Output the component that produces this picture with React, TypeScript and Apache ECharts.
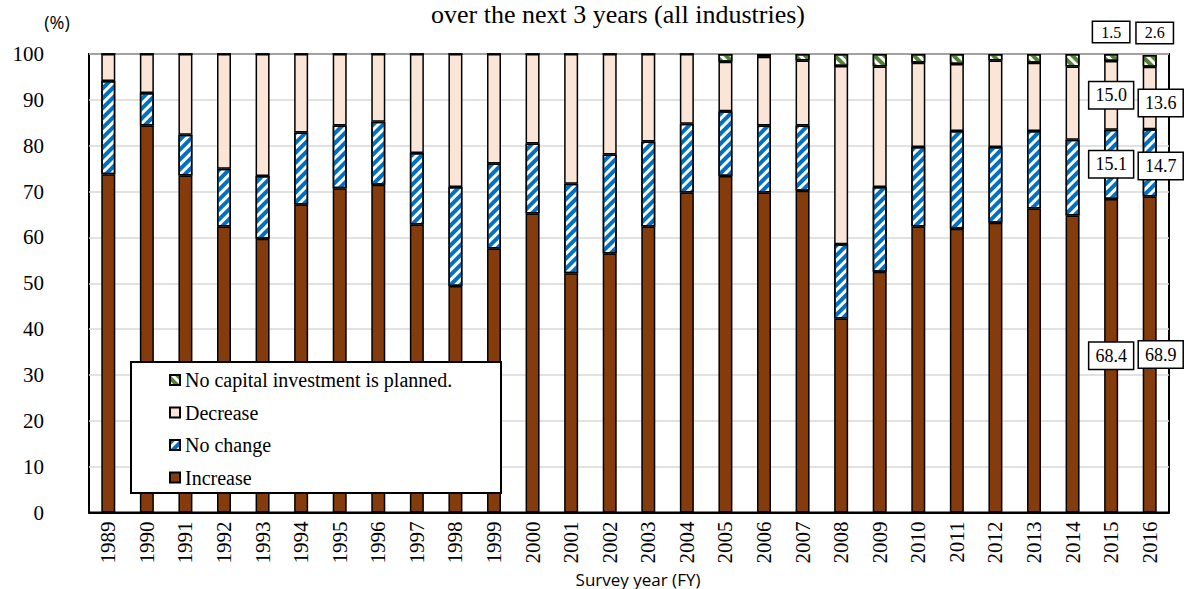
import React, { useEffect, useRef } from "react";
import * as echarts from "echarts";

// Survey years (FY)
const years = [
  "1989", "1990", "1991", "1992", "1993", "1994", "1995", "1996", "1997", "1998",
  "1999", "2000", "2001", "2002", "2003", "2004", "2005", "2006", "2007", "2008",
  "2009", "2010", "2011", "2012", "2013", "2014", "2015", "2016",
];

// Share of companies (%) by capital investment outlook
const increase = [
  73.8, 84.4, 73.5, 62.4, 59.7, 67.2, 70.7, 71.5, 62.8, 49.4,
  57.6, 65.2, 52.2, 56.5, 62.4, 69.8, 73.4, 69.8, 70.2, 42.3,
  52.5, 62.4, 61.9, 63.2, 66.3, 64.8, 68.4, 68.9,
];
const noChange = [
  20.3, 7.1, 8.9, 12.6, 13.7, 15.7, 13.7, 13.7, 15.6, 21.6,
  18.5, 15.3, 19.5, 21.6, 18.5, 15.0, 14.1, 14.6, 14.2, 16.2,
  18.5, 17.3, 21.3, 16.5, 16.9, 16.5, 15.1, 14.7,
];
const decrease = [
  5.9, 8.5, 17.6, 25.0, 26.6, 17.1, 15.6, 14.8, 21.6, 29.0,
  23.9, 19.5, 28.3, 21.9, 19.1, 15.2, 10.8, 15.0, 14.2, 38.9,
  26.3, 18.4, 14.6, 18.9, 14.9, 16.0, 15.0, 13.6,
];
const noInvestment = [
  0, 0, 0, 0, 0, 0, 0, 0, 0, 0,
  0, 0, 0, 0, 0, 0, 1.7, 0.6, 1.4, 2.6,
  2.7, 1.9, 2.2, 1.4, 1.9, 2.7, 1.5, 2.6,
];

const yTicks = [0, 10, 20, 30, 40, 50, 60, 70, 80, 90, 100];
const labelledYears = ["2015", "2016"];

const SERIF = "'Liberation Serif', 'Times New Roman', serif";
const SANS = "'Open Sans', 'Liberation Sans', sans-serif";

const boxLabel = (fontSize: number, padding: number[]) => ({
  show: true,
  backgroundColor: "#fff",
  borderColor: "#000",
  borderWidth: 1.5,
  padding,
  fontFamily: SERIF,
  fontSize,
  color: "#000",
  formatter: (p: any) => Number(p.value).toFixed(1),
});

// Attach value boxes to the latest two survey years
function withLabels(values: number[], opts: (year: string) => any) {
  return values.map((v, i) => {
    const year = years[i];
    if (!labelledYears.includes(year)) return v;
    return { value: v, label: opts(year) };
  });
}

export default function App() {
  const ref = useRef<HTMLDivElement>(null);

  useEffect(() => {
    document.body.style.margin = "0";
    const chart = echarts.init(ref.current!, null, { renderer: "svg" });

    const barBase = {
      type: "bar" as const,
      stack: "total",
      barWidth: 14,
      emphasis: { disabled: true },
    };

    const option: any = {
      animation: false,
      backgroundColor: "#fff",
      grid: {
        left: 89,
        top: 54,
        width: 1080,
        height: 458.5,
        show: true,
        borderColor: "#000",
        borderWidth: 2,
        backgroundColor: "transparent",
      },
      xAxis: {
        type: "category",
        data: years,
        axisLine: { show: true, lineStyle: { color: "#000", width: 2 } },
        axisTick: { show: false },
        axisLabel: {
          rotate: 90,
          margin: 9,
          fontFamily: SERIF,
          fontSize: 21,
          color: "#000",
        },
      },
      yAxis: {
        type: "value",
        min: yTicks[0],
        max: yTicks[yTicks.length - 1],
        interval: 10,
        axisLine: { show: false },
        axisTick: { show: false },
        axisLabel: {
          margin: 45,
          fontFamily: SERIF,
          fontSize: 21,
          color: "#000",
        },
        splitLine: { lineStyle: { color: "#d9d9d9", width: 1.5 } },
      },
      legend: {
        orient: "vertical",
        left: 164,
        top: 365,
        z: 10,
        itemWidth: 10,
        itemHeight: 10,
        itemGap: 12.5,
        icon: "rect",
        data: ["No capital investment is planned.", "Decrease", "No change", "Increase"],
        textStyle: { fontFamily: SERIF, fontSize: 20, color: "#000", lineHeight: 20 },
        selectedMode: false,
      },
      graphic: [
        {
          type: "rect",
          z: 9,
          shape: { x: 131, y: 362, width: 370, height: 131 },
          style: { fill: "#fff", stroke: "#000", lineWidth: 2 },
        },
        {
          type: "text",
          x: 618,
          y: 14,
          style: {
            text: "over the next 3 years (all industries)",
            fontFamily: SERIF,
            fontSize: 26,
            fill: "#000",
            align: "center",
            verticalAlign: "middle",
          },
        },
        {
          type: "text",
          x: 57,
          y: 22,
          style: {
            text: "(%)",
            fontFamily: SANS,
            fontSize: 18,
            fill: "#000",
            align: "center",
            verticalAlign: "middle",
          },
        },
        {
          type: "text",
          x: 638,
          y: 579,
          style: {
            text: "Survey year (FY)",
            fontFamily: SANS,
            fontSize: 17,
            fill: "#000",
            align: "center",
            verticalAlign: "middle",
          },
        },
      ],
      series: [
        {
          ...barBase,
          name: "Increase",
          itemStyle: { color: "#843C0C", borderColor: "#000", borderWidth: 1.5 },
          data: withLabels(increase, (y) => ({
            ...boxLabel(18, [4, 6]),
            position: "inside",
            offset: y === "2016" ? [11, 0] : [0, 0],
          })),
        },
        {
          ...barBase,
          name: "No change",
          itemStyle: {
            color: "#fff",
            borderColor: "#000",
            borderWidth: 1.5,
            decal: {
              symbol: "rect",
              symbolSize: 1,
              color: "#0070C0",
              backgroundColor: "#fff",
              dashArrayX: [1, 0],
              dashArrayY: [3.5, 3],
              rotation: -Math.PI / 4,
            },
          },
          data: withLabels(noChange, (y) => ({
            ...boxLabel(18, [4, 6]),
            position: "inside",
            offset: y === "2016" ? [11, 3] : [0, 0],
          })),
        },
        {
          ...barBase,
          name: "Decrease",
          itemStyle: { color: "#FBE5D6", borderColor: "#000", borderWidth: 1.5 },
          data: withLabels(decrease, (y) => ({
            ...boxLabel(18, [4, 6]),
            position: "inside",
            offset: y === "2016" ? [11, 5] : [0, 0],
          })),
        },
        {
          ...barBase,
          name: "No capital investment is planned.",
          itemStyle: {
            color: "#fff",
            borderColor: "#000",
            borderWidth: 1.5,
            decal: {
              symbol: "rect",
              symbolSize: 1,
              color: "#548235",
              backgroundColor: "#fff",
              dashArrayX: [1, 0],
              dashArrayY: [4, 2.5],
              rotation: Math.PI / 4,
            },
          },
          data: withLabels(noInvestment, (y) => ({
            ...boxLabel(16, [2, 8]),
            position: "top",
            distance: 12,
            offset: y === "2016" ? [5, 0] : [0, 0],
          })),
        },
      ],
    };

    chart.setOption(option);
    return () => chart.dispose();
  }, []);

  return <div ref={ref} style={{ width: 1188, height: 589, position: "absolute", left: 0, top: 0 }} />;
}
